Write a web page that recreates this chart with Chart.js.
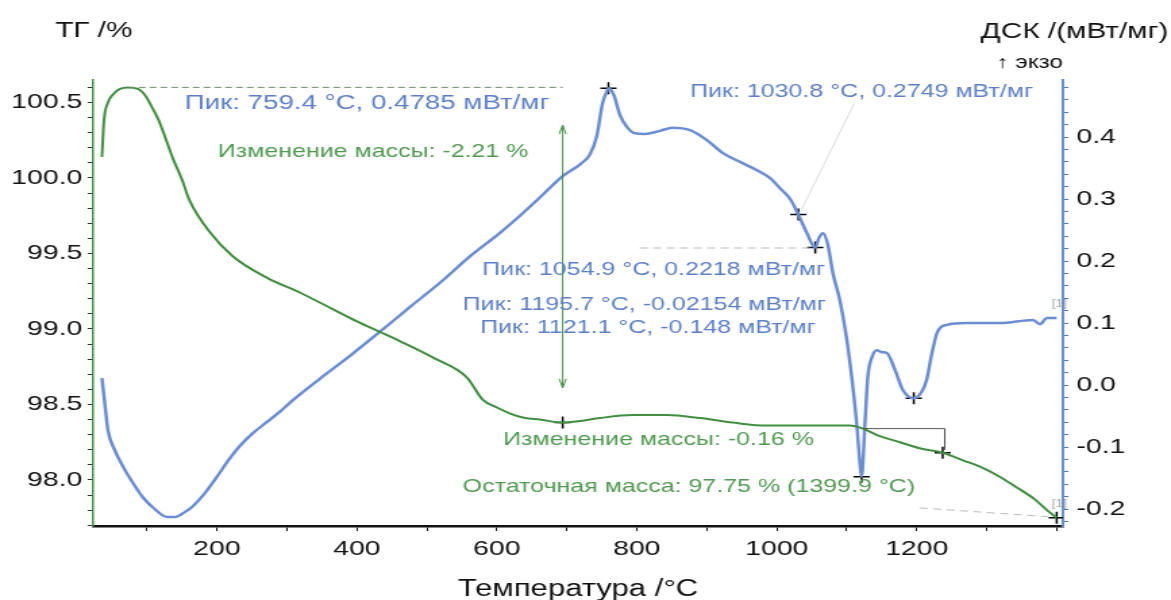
<!DOCTYPE html>
<html>
<head>
<meta charset="utf-8">
<script src="https://cdn.jsdelivr.net/npm/chart.js@4.4.1/dist/chart.umd.min.js"></script>
<style>
html, body { margin: 0; padding: 0; background: #fff; overflow: hidden; }
/* the original picture is stretched sideways, so the whole chart is too */
#wrap { position: relative; width: 867px; height: 600px; transform: scaleX(1.3506); transform-origin: 0 0; }
</style>
</head>
<body>
<div id="wrap"><canvas id="myChart"></canvas></div>
<script>
// TG curve, mass %
var tgTemp = [35.7, 38.6, 44.3, 52.9, 61.4, 72.9, 87.1, 98.6, 107, 117, 126, 137, 150, 161, 190, 223, 271, 319, 366,
  400, 433, 461, 509, 557, 580, 600, 619, 640, 661, 694, 719, 747, 794, 843, 890, 937, 986, 1033, 1104,
  1123, 1147, 1176, 1204, 1237, 1266, 1294, 1319, 1343, 1369, 1386, 1399.9];
var tgMass = [100.14, 100.38, 100.50, 100.56, 100.59, 100.60, 100.59, 100.54, 100.47, 100.38, 100.27, 100.13, 99.99, 99.85, 99.64, 99.48, 99.34, 99.24, 99.13,
  99.05, 98.98, 98.92, 98.81, 98.68, 98.53, 98.48, 98.44, 98.41, 98.40, 98.38, 98.39, 98.41, 98.43, 98.43, 98.41, 98.38, 98.36, 98.36, 98.36,
  98.34, 98.29, 98.25, 98.21, 98.18, 98.13, 98.08, 98.02, 97.95, 97.87, 97.80, 97.75];

// DSC curve, mW/mg
var dscTemp = [35.7, 40, 44.3, 54, 66, 80, 94, 111, 129, 140, 154, 166, 183, 200, 216, 233, 251, 271, 290, 309,
  347, 390, 433, 476, 523, 561, 604, 633, 661, 694, 719, 733, 743, 751, 757, 759.4, 767, 776, 786, 797,
  811, 833, 851, 876, 900, 923, 947, 971, 990, 1004, 1019, 1030.8, 1043, 1054.9, 1060, 1066, 1073, 1080, 1090, 1100,
  1107, 1114, 1119, 1121.1, 1126, 1130, 1136, 1143, 1150, 1157, 1169, 1180, 1195.7, 1207, 1214, 1221, 1229, 1243, 1271, 1319,
  1366, 1376, 1386, 1399.9];
var dscVal = [0.011, -0.032, -0.073, -0.105, -0.132, -0.158, -0.181, -0.200, -0.213, -0.213, -0.205, -0.195, -0.174, -0.148, -0.122, -0.098, -0.078, -0.060, -0.043, -0.024,
  0.010, 0.047, 0.086, 0.126, 0.169, 0.207, 0.245, 0.273, 0.302, 0.337, 0.356, 0.372, 0.403, 0.455, 0.473, 0.4785, 0.468, 0.435, 0.416, 0.406,
  0.405, 0.410, 0.415, 0.411, 0.395, 0.374, 0.360, 0.347, 0.334, 0.318, 0.300, 0.2749, 0.245, 0.2218, 0.237, 0.245, 0.226, 0.181, 0.137, 0.073,
  0.013, -0.061, -0.129, -0.148, -0.061, 0.013, 0.045, 0.056, 0.053, 0.052, 0.024, -0.008, -0.02154, -0.011, 0.008, 0.048, 0.084, 0.097, 0.100, 0.100,
  0.105, 0.098, 0.108, 0.108];

// marked points
var dscPeakTemp = [759.4, 1030.8, 1054.9, 1121.1, 1195.7];
var dscPeakVal = [0.4785, 0.2749, 0.2218, -0.148, -0.02154];
var tgMarkTemp = [694, 1237, 1399.9];
var tgMarkVal = [98.38, 98.18, 97.75];

// tick labels
var xTickLabels = [200, 400, 600, 800, 1000, 1200];
var tgTickLabels = [98.0, 98.5, 99.0, 99.5, 100.0, 100.5];
var dscTickLabels = [-0.2, -0.1, 0.0, 0.1, 0.2, 0.3, 0.4];

var blue = '#6a8dd4';
var blueText = '#5b7fc8';
var green = '#3f8f3f';
var greenText = '#4f9a4f';
var FONT = '"Liberation Sans", Arial, sans-serif';

function pts(xs, ys) {
  return xs.map(function (x, i) { return { x: x, y: ys[i] }; });
}
function hasLabel(list, v) {
  return list.some(function (l) { return Math.abs(l - v) < 1e-6; });
}

// annotation texts: anchor in data units, left edge of text
var notes = [
  { text: 'Пик: 759.4 °C, 0.4785 мВт/мг', t: 154, v: 0.455, axis: 'yDSC', color: blueText, size: 20.5 },
  { text: 'Изменение массы: -2.21 %', t: 201, v: 100.17, axis: 'yTG', color: greenText, size: 18.5 },
  { text: 'Пик: 1030.8 °C, 0.2749 мВт/мг', t: 876, v: 0.473, axis: 'yDSC', color: blueText, size: 18.5 },
  { text: 'Пик: 1054.9 °C, 0.2218 мВт/мг', t: 579, v: 0.185, axis: 'yDSC', color: blueText, size: 18.5 },
  { text: 'Пик: 1195.7 °C, -0.02154 мВт/мг', t: 551, v: 0.129, axis: 'yDSC', color: blueText, size: 18.5 },
  { text: 'Пик: 1121.1 °C, -0.148 мВт/мг', t: 576, v: 0.092, axis: 'yDSC', color: blueText, size: 18.5 },
  { text: 'Изменение массы: -0.16 %', t: 609, v: 98.265, axis: 'yTG', color: greenText, size: 18.5 },
  { text: 'Остаточная масса: 97.75 % (1399.9 °C)', t: 551, v: 97.954, axis: 'yTG', color: greenText, size: 18.5 }
];

var marks = {
  id: 'marks',
  afterDraw: function (chart) {
    var c = chart.ctx, sx = chart.scales.x, a = chart.chartArea;
    var sT = chart.scales.yTG, sD = chart.scales.yDSC;
    function X(t) { return sx.getPixelForValue(t); }

    c.save();
    // mass step -2.21 %
    c.strokeStyle = '#6d8f6d'; c.lineWidth = 1; c.setLineDash([5, 3]);
    c.beginPath(); c.moveTo(X(73), sT.getPixelForValue(100.60)); c.lineTo(X(694), sT.getPixelForValue(100.60)); c.stroke();
    c.setLineDash([]);
    c.strokeStyle = green; c.fillStyle = green;
    var ax = X(694), y1 = sT.getPixelForValue(100.35), y2 = sT.getPixelForValue(98.61);
    c.beginPath(); c.moveTo(ax, y1); c.lineTo(ax, y2); c.stroke();
    c.beginPath(); c.moveTo(ax, y1); c.lineTo(ax - 2.5, y1 + 9); c.moveTo(ax, y1); c.lineTo(ax + 2.5, y1 + 9); c.stroke();
    c.beginPath(); c.moveTo(ax, y2); c.lineTo(ax - 2.5, y2 - 9); c.moveTo(ax, y2); c.lineTo(ax + 2.5, y2 - 9); c.stroke();

    // mass step -0.16 %
    c.strokeStyle = '#555'; c.lineWidth = 1;
    c.beginPath();
    c.moveTo(X(1123), sT.getPixelForValue(98.34)); c.lineTo(X(1240), sT.getPixelForValue(98.34));
    c.lineTo(X(1240), sT.getPixelForValue(98.20)); c.stroke();

    // leader lines
    c.strokeStyle = '#bbbbbb'; c.setLineDash([6, 4]);
    c.beginPath(); c.moveTo(X(1204), sT.getPixelForValue(97.815)); c.lineTo(X(1392), sT.getPixelForValue(97.755)); c.stroke();
    c.beginPath(); c.moveTo(X(804), sD.getPixelForValue(0.221)); c.lineTo(X(1048), sD.getPixelForValue(0.221)); c.stroke();
    c.setLineDash([]);
    c.strokeStyle = '#dddddd';
    c.beginPath(); c.moveTo(X(1111), sD.getPixelForValue(0.455)); c.lineTo(X(1034), sD.getPixelForValue(0.28)); c.stroke();

    // texts
    c.textBaseline = 'middle'; c.textAlign = 'left';
    notes.forEach(function (n) {
      c.font = n.size + 'px ' + FONT;
      c.fillStyle = n.color;
      c.fillText(n.text, X(n.t), chart.scales[n.axis].getPixelForValue(n.v));
    });
    c.font = '10px ' + FONT; c.fillStyle = '#9aa89a';
    c.fillText('[1]', X(1393), sT.getPixelForValue(97.84));
    c.fillText('[1]', X(1393), sD.getPixelForValue(0.13));

    // axis titles
    c.fillStyle = '#111';
    c.font = '22px ' + FONT;
    c.fillText('ТГ /%', a.left - 28, 31);
    c.textAlign = 'right';
    c.font = '22px ' + FONT;
    c.fillText('ДСК /(мВт/мг)', chart.width - 2, 32);
    c.font = '18px ' + FONT;
    c.fillText('↑ экзо', a.right, 63);
    c.restore();
  }
};

Chart.defaults.font.family = FONT;
Chart.defaults.color = '#111';

var ctx = document.getElementById('myChart').getContext('2d');
var myChart = new Chart(ctx, {
  type: 'line',
  data: {
    datasets: [
      { label: 'ТГ', data: pts(tgTemp, tgMass), yAxisID: 'yTG', borderColor: green, borderWidth: 2,
        pointRadius: 0, cubicInterpolationMode: 'monotone', fill: false },
      { label: 'ДСК', data: pts(dscTemp, dscVal), yAxisID: 'yDSC', borderColor: blue, borderWidth: 2.5,
        pointRadius: 0, cubicInterpolationMode: 'monotone', fill: false },
      { label: 'Пики', data: pts(dscPeakTemp, dscPeakVal), yAxisID: 'yDSC', showLine: false,
        pointStyle: 'cross', pointRadius: 6, borderColor: '#000', borderWidth: 1.5 },
      { label: 'ТГ точки', data: pts(tgMarkTemp, tgMarkVal), yAxisID: 'yTG', showLine: false,
        pointStyle: 'cross', pointRadius: 6, borderColor: '#000', borderWidth: 1.5 }
    ]
  },
  options: {
    responsive: true,
    maintainAspectRatio: false,
    animation: false,
    layout: { padding: { top: 80, left: 0, right: 0, bottom: 0 } },
    plugins: { legend: { display: false }, tooltip: { enabled: false } },
    scales: {
      x: {
        type: 'linear', min: 23, max: 1409,
        grid: { drawOnChartArea: false, tickLength: 5, color: '#111' },
        border: { color: '#111', width: 2.5 },
        ticks: {
          stepSize: 100, autoSkip: false, includeBounds: false, maxRotation: 0, padding: 6,
          font: { size: 21 }, color: '#111',
          callback: function (v) { return hasLabel(xTickLabels, v) ? String(v) : ''; }
        },
        title: { display: true, text: 'Температура /°C', font: { size: 23 }, color: '#111', padding: { top: 0, bottom: -3 } },
        afterFit: function (s) { s.height = 74; }
      },
      yTG: {
        position: 'left', min: 97.695, max: 100.649,
        grid: { drawOnChartArea: false, tickLength: 4, color: '#333' },
        border: { color: green, width: 1.5 },
        ticks: {
          stepSize: 0.1, autoSkip: false, includeBounds: false, padding: 4,
          font: { size: 21 }, color: '#111',
          callback: function (v) { return hasLabel(tgTickLabels, v) ? v.toFixed(1) : ''; }
        },
        afterFit: function (s) { s.width = 68.9; }
      },
      yDSC: {
        position: 'right', min: -0.2274, max: 0.492,
        grid: { drawOnChartArea: false, tickLength: 4, color: '#5577bb' },
        border: { color: blue, width: 2 },
        ticks: {
          stepSize: 0.02, autoSkip: false, includeBounds: false, padding: 6,
          font: { size: 21 }, color: '#111',
          callback: function (v) {
            if (!hasLabel(dscTickLabels, v)) return '';
            return Math.abs(v) < 1e-9 ? '0.0' : v.toFixed(1);
          }
        },
        afterFit: function (s) { s.width = 79.9; }
      }
    }
  },
  plugins: [marks]
});
</script>
</body>
</html>
